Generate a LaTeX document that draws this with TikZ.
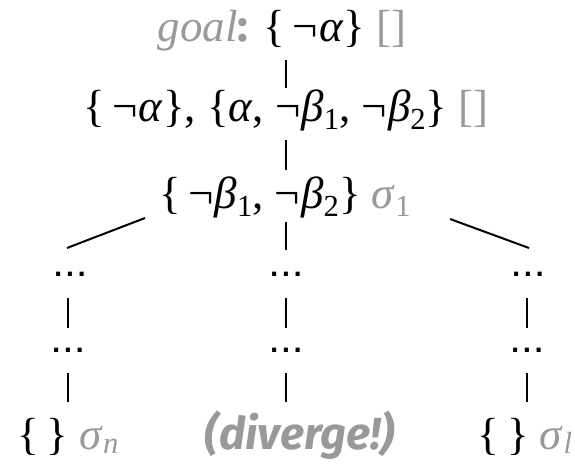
\documentclass[tikz,border=0pt]{standalone}
\usepackage{fontspec}
\usepackage{graphicx}
\setmainfont{Liberation Serif}
\newfontfamily\sansfam{Fira Sans}
\newfontfamily\dotfam{DejaVu Sans}
\usetikzlibrary{calc}
\definecolor{lg}{HTML}{999999}
\newcommand{\gr}[1]{\textcolor{lg}{#1}}
\newcommand{\mysb}[1]{\raisebox{-0.18em}{\scalebox{0.68}{#1}}}
\newcommand{\mysbb}[1]{\raisebox{-0.1em}{\scalebox{0.68}{#1}}}
\newcommand{\myneg}{¬\kern1pt}
\newcommand{\dts}{{\dotfam\bfseries\fontsize{23}{23}\selectfont .\kern3pt.\kern3pt.}}
\begin{document}
\begin{tikzpicture}[x=1pt,y=-1pt,
  txt/.style={inner sep=0pt, anchor=base, font=\fontsize{45}{50}\selectfont},
  dotnode/.style={inner sep=0pt},
  link/.style={line width=2pt}]
\useasboundingbox (0,0) rectangle (575,463);
% text nodes
\node[txt] (g)  at (282,41)  {\gr{\textit{goal}{\sansfam\bfseries :}} \{\,\myneg\textit{α}\} \gr{[]}};
\node[txt] (r1) at (286,121) {\{\,\myneg\textit{α}\}, \{\textit{α}, \myneg\textit{β}\mysb{1}, \myneg\textit{β}\mysb{2}\} \gr{[]}};
\node[txt] (r2) at (285,208) {\{\,\myneg\textit{β}\mysb{1}, \myneg\textit{β}\mysb{2}\} \gr{\textit{σ}\mysb{1}}};
\node[dotnode] (dL1) at (70,274)  {\dts};
\node[dotnode] (dM1) at (286,274) {\dts};
\node[dotnode] (dR1) at (528,274) {\dts};
\node[dotnode] (dL2) at (68,350)  {\dts};
\node[dotnode] (dM2) at (286,350) {\dts};
\node[dotnode] (dR2) at (527,350) {\dts};
\node[txt] (bL) at (68,449)  {\{\,\} \gr{\textit{σ}\mysbb{\textit{n}}}};
\node[txt] (bM) at (300,449) {\gr{\sansfam\bfseries\itshape (diverge!)}};
\node[txt] (bR) at (525,449) {\{\,\} \gr{\textit{σ}\mysbb{\textit{l}}}};
% connectors
\draw[link] ($(g.base -| dM1)+(0,19)$) -- ($(r1.base -| dM1)+(0,-33)$);
\draw[link] ($(r1.base -| dM1)+(0,19)$) -- ($(r2.base -| dM1)+(0,-38)$);
\draw[link] ($(r2.base -| dM1)+(0,14)$) -- ($(dM1)+(0,-24)$);
\draw[link] ($(r2.base)+(-140,10)$) -- ($(dL1)+(-3,-26)$);
\draw[link] ($(r2.base)+(165,11)$) -- ($(dR1)+(1,-26)$);
\draw[link] ($(dL1 -| dL2)+(0,24)$) -- ($(dL2)+(0,-22)$);
\draw[link] ($(dM1)+(0,24)$) -- ($(dM2)+(0,-22)$);
\draw[link] ($(dR1 -| dR2)+(0,24)$) -- ($(dR2)+(0,-22)$);
\draw[link] ($(dL2)+(0,23)$) -- ($(bL.base -| dL2)+(0,-47)$);
\draw[link] ($(dM2)+(0,23)$) -- ($(bM.base -| dM2)+(0,-47)$);
\draw[link] ($(dR2)+(0,23)$) -- ($(bR.base -| dR2)+(0,-47)$);
\end{tikzpicture}
\end{document}
